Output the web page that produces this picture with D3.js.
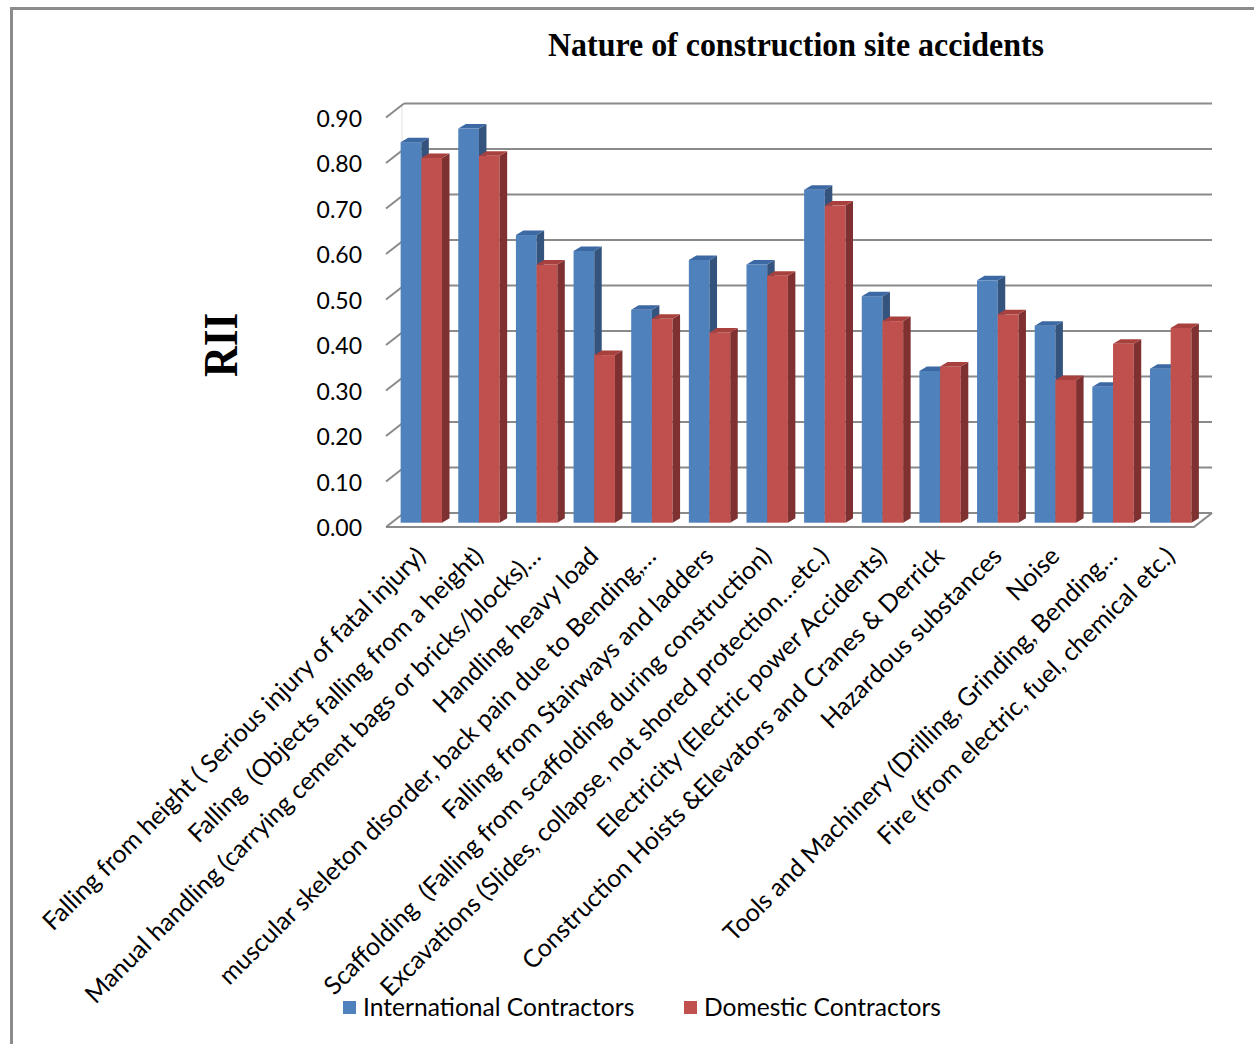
<!DOCTYPE html>
<html>
<head>
<meta charset="utf-8">
<script src="https://cdn.jsdelivr.net/npm/d3@7"></script>
<style>
  html, body { margin: 0; padding: 0; background: #fff; }
  svg { display: block; }
  text { white-space: pre; }
</style>
</head>
<body>
<svg id="chart" width="1254" height="1044"></svg>
<script>
const categories = [
  "Falling from height ( Serious injury of fatal injury)",
  "Falling  (Objects falling from a height)",
  "Manual handling (carrying cement bags or bricks/blocks)…",
  "Handling heavy load",
  "muscular skeleton disorder, back pain due to Bending,…",
  "Falling from Stairways and ladders",
  "Scaffolding  (Falling from scaffolding during construction)",
  "Excavations (Slides, collapse, not shored protection…etc.)",
  "Electricity (Electric power Accidents)",
  "Construction Hoists &Elevators and Cranes & Derrick",
  "Hazardous substances",
  "Noise",
  "Tools and Machinery (Drilling, Grinding, Bending…",
  "Fire (from electric, fuel, chemical etc.)"
];
const seriesNames = ["International Contractors", "Domestic Contractors"];
const international = [0.84, 0.87, 0.635, 0.60, 0.47, 0.58, 0.57, 0.735, 0.50, 0.335, 0.535, 0.435, 0.30, 0.34];
const domestic      = [0.805, 0.81, 0.57, 0.37, 0.45, 0.42, 0.545, 0.70, 0.445, 0.345, 0.46, 0.315, 0.395, 0.43];
const yTicks = [0, 0.1, 0.2, 0.3, 0.4, 0.5, 0.6, 0.7, 0.8, 0.9];

const svg = d3.select("#chart");

// frame
svg.append("path").attr("d", "M11.5,1044 V8.5 H1254")
  .attr("fill", "none").attr("stroke", "#8c8c8c").attr("stroke-width", 3);

// geometry
const floorFrontY = 527, floorBackY = 513;
const depthDx = 18, depthDy = 14;
const wallLeft = 404, wallRight = 1212;
const yWall = d3.scaleLinear().domain([0, 0.9]).range([floorBackY, floorBackY - 0.9 * 455]);
const barBase = 522.7;
const yBar = d3.scaleLinear().domain([0, 0.9]).range([barBase, barBase - 0.9 * 453]);

const x0 = d3.scaleBand().domain(categories).range([392.5, 1199.5]).paddingInner(0.282).paddingOuter(0.141);
const x1 = d3.scaleBand().domain(seriesNames).range([0, x0.bandwidth()]);

const gridColor = "#8a8a8a";
const grid = svg.append("g");
grid.selectAll("line.gl").data(yTicks).join("line")
  .attr("x1", wallLeft).attr("x2", wallRight)
  .attr("y1", d => yWall(d)).attr("y2", d => yWall(d))
  .attr("stroke", gridColor).attr("stroke-width", 2.2);
grid.append("line").attr("x1", wallLeft - 2).attr("x2", wallLeft - 2)
  .attr("y1", yWall(0.9) + 2).attr("y2", yWall(0))
  .attr("stroke", "#e2e2e2").attr("stroke-width", 1);
grid.selectAll("line.tk").data(yTicks).join("line")
  .attr("x1", wallLeft - depthDx).attr("x2", wallLeft)
  .attr("y1", d => yWall(d) + depthDy).attr("y2", d => yWall(d))
  .attr("stroke", gridColor).attr("stroke-width", 2);
grid.append("path")
  .attr("d", `M${wallLeft - depthDx},${floorFrontY} H${wallRight - depthDx} L${wallRight},${floorBackY}`)
  .attr("fill", "none").attr("stroke", gridColor).attr("stroke-width", 2.2);

// y tick labels
svg.append("g").selectAll("text").data(yTicks).join("text")
  .attr("x", 362).attr("y", d => yWall(d) + depthDy + 1)
  .attr("dy", "0.36em")
  .attr("text-anchor", "end")
  .attr("font-family", "Lato, 'Open Sans', sans-serif").attr("font-size", 23)
  .attr("fill", "#000")
  .text(d => d.toFixed(2));

// bars
const colors = {
  "International Contractors": { front: "#4F81BD", top: "#3C69A3", side: "#34537D" },
  "Domestic Contractors":      { front: "#C0504D", top: "#A8403D", side: "#7E3130" }
};
const bdx = 7.5, bdy = 4.5;
const data = categories.map((c, i) => ({ cat: c, vals: [
  { s: seriesNames[0], v: international[i] },
  { s: seriesNames[1], v: domestic[i] }
]}));

const barsG = svg.append("g");
data.forEach(g => {
  g.vals.forEach(b => {
    const xb = x0(g.cat) + x1(b.s);
    const w = x1.bandwidth();
    const top = yBar(b.v);
    const c = colors[b.s];
    const bg = barsG.append("g");
    bg.append("rect").attr("x", xb).attr("y", top).attr("width", w).attr("height", barBase - top)
      .attr("fill", c.front);
    bg.append("polygon")
      .attr("points", [[xb + w, top], [xb + w + bdx, top - bdy], [xb + w + bdx, barBase - bdy], [xb + w, barBase]].join(" "))
      .attr("fill", c.side);
    bg.append("polygon")
      .attr("points", [[xb, top], [xb + bdx, top - bdy], [xb + w + bdx, top - bdy], [xb + w, top]].join(" "))
      .attr("fill", c.top);
  });
});

// category labels
svg.append("g").selectAll("text").data(categories).join("text")
  .attr("transform", d => `translate(${x0(d) + x0.bandwidth() / 2 - 7},${545}) rotate(-45)`)
  .attr("text-anchor", "end").attr("dy", "0.72em")
  .attr("font-family", "Lato, 'Open Sans', sans-serif").attr("font-size", 25)
  .attr("fill", "#000")
  .text(d => d);

// title
svg.append("text").attr("x", 796).attr("y", 56)
  .attr("text-anchor", "middle")
  .attr("font-family", "'Liberation Serif', 'Times New Roman', serif").attr("font-weight", "bold")
  .attr("font-size", 33).attr("textLength", 496).attr("lengthAdjust", "spacingAndGlyphs")
  .text("Nature of construction site accidents");

// y axis title
svg.append("text").attr("transform", "translate(237,345) rotate(-90)")
  .attr("text-anchor", "middle")
  .attr("font-family", "'Liberation Serif', 'Times New Roman', serif").attr("font-weight", "bold")
  .attr("font-size", 48).attr("textLength", 64).attr("lengthAdjust", "spacingAndGlyphs")
  .text("RII");

// legend
const legendX = [343, 684];
const lg = svg.append("g").selectAll("g").data(seriesNames).join("g")
  .attr("transform", (d, i) => `translate(${legendX[i]},1001)`);
lg.append("rect").attr("width", 13).attr("height", 13).attr("fill", d => colors[d].front);
lg.append("text").attr("x", 20).attr("y", 15)
  .attr("font-family", "Lato, 'Open Sans', sans-serif").attr("font-size", 24.6)
  .attr("fill", "#000").text(d => d);
</script>
</body>
</html>
